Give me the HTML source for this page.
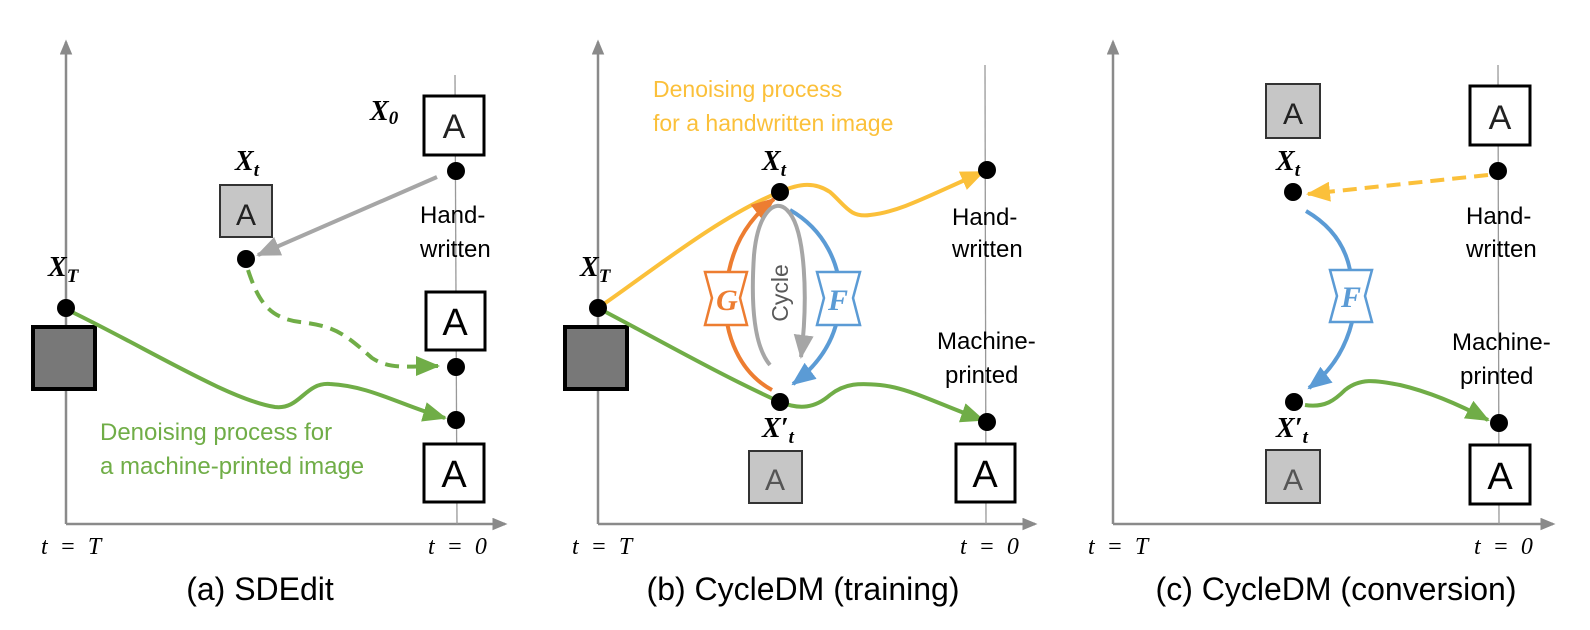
<!DOCTYPE html>
<html><head><meta charset="utf-8"><style>
html,body{margin:0;padding:0;background:#fff;width:1590px;height:630px;overflow:hidden}
svg{display:block}
.s{font-family:"Liberation Sans",sans-serif}
.m{font-family:"Liberation Serif",serif;font-style:italic;font-weight:bold}
.t{font-family:"Liberation Serif",serif;font-style:italic;font-size:24px}
</style></head><body>
<svg width="1590" height="630" viewBox="0 0 1590 630" xmlns="http://www.w3.org/2000/svg">
<defs>
<marker id="ag" markerWidth="6" markerHeight="5" refX="5.5" refY="2.5" orient="auto" markerUnits="strokeWidth"><path d="M0,0 L6,2.5 L0,5 Z" fill="#70ad47"/></marker>
<marker id="ay" markerWidth="6" markerHeight="5" refX="5.5" refY="2.5" orient="auto" markerUnits="strokeWidth"><path d="M0,0 L6,2.5 L0,5 Z" fill="#fbc03a"/></marker>
<marker id="ab" markerWidth="6" markerHeight="5" refX="5.5" refY="2.5" orient="auto" markerUnits="strokeWidth"><path d="M0,0 L6,2.5 L0,5 Z" fill="#5b9bd5"/></marker>
<marker id="ao" markerWidth="6" markerHeight="5" refX="5.5" refY="2.5" orient="auto" markerUnits="strokeWidth"><path d="M0,0 L6,2.5 L0,5 Z" fill="#ed7d31"/></marker>
<marker id="ar" markerWidth="6" markerHeight="5" refX="5.5" refY="2.5" orient="auto" markerUnits="strokeWidth"><path d="M0,0 L6,2.5 L0,5 Z" fill="#a6a6a6"/></marker>
<marker id="ax" markerWidth="6" markerHeight="5" refX="5" refY="2.5" orient="auto" markerUnits="strokeWidth"><path d="M0,0 L6,2.5 L0,5 Z" fill="#8a8a8a"/></marker>
</defs>

<g stroke="#8a8a8a" stroke-width="2.5" fill="none">
<path d="M66,524 L66,42" marker-end="url(#ax)"/>
<path d="M66,524 L505,524" marker-end="url(#ax)"/>
<path d="M598,524 L598,42" marker-end="url(#ax)"/>
<path d="M598,524 L1035,524" marker-end="url(#ax)"/>
<path d="M1113,524 L1113,42" marker-end="url(#ax)"/>
<path d="M1113,524 L1553,524" marker-end="url(#ax)"/>
</g>
<g stroke="#999" stroke-width="1.3">
<line x1="455" y1="75" x2="457" y2="524"/>
<line x1="985" y1="65" x2="986" y2="524"/>
<line x1="1498" y1="65" x2="1499" y2="524"/>
</g>

<!-- panel a -->
<rect x="33" y="327" width="62" height="62" fill="#787878" stroke="#000" stroke-width="4"/>
<rect x="220" y="185" width="52" height="52" fill="#c6c6c6" stroke="#333" stroke-width="2"/>
<text x="246" y="225" class="s" font-size="30" text-anchor="middle" fill="#222">A</text>
<g fill="#fff" stroke="#000" stroke-width="3">
<rect x="424" y="96" width="60" height="59"/>
<rect x="426" y="292" width="59" height="58"/>
<rect x="424" y="444" width="60" height="58"/>
</g>
<text x="454" y="138" class="s" font-size="34" text-anchor="middle" fill="#222">A</text>
<text x="455" y="335" class="s" font-size="38" text-anchor="middle">A</text>
<text x="454" y="487" class="s" font-size="38" text-anchor="middle">A</text>

<path d="M437,177 L258,255" stroke="#a6a6a6" stroke-width="4" fill="none" marker-end="url(#ar)"/>
<path d="M248,270 C258,300 268,318 300,322 C335,326 345,334 372,358 C390,370 410,366 438,366" stroke="#70ad47" stroke-width="4" fill="none" stroke-dasharray="14,8" marker-end="url(#ag)"/>
<path d="M72,312 C150,350 230,400 275,407 C300,410 305,382 330,384 C370,386 400,405 445,418" stroke="#70ad47" stroke-width="4" fill="none" marker-end="url(#ag)"/>

<g fill="#000">
<circle cx="66" cy="308" r="9"/><circle cx="246" cy="259" r="9"/>
<circle cx="456" cy="171" r="9"/><circle cx="456" cy="367" r="9"/><circle cx="456" cy="420" r="9"/>
</g>
<text x="370" y="120" class="m" font-size="28">X<tspan font-size="19" dy="4">0</tspan></text>
<text x="235" y="170" class="m" font-size="28">X<tspan font-size="19" dy="6">t</tspan></text>
<text x="48" y="276" class="m" font-size="28">X<tspan font-size="19" dy="6">T</tspan></text>
<text x="420" y="223" class="s" font-size="24">Hand-</text>
<text x="420" y="257" class="s" font-size="24">written</text>
<text x="100" y="440" class="s" font-size="24" fill="#70ad47">Denoising process for</text>
<text x="100" y="474" class="s" font-size="24" fill="#70ad47">a machine-printed image</text>
<text x="41" y="554" class="t" xml:space="preserve">t  =  T</text>
<text x="428" y="554" class="t" xml:space="preserve">t  =  0</text>
<text x="260" y="600" class="s" font-size="32" text-anchor="middle">(a) SDEdit</text>

<!-- panel b -->
<rect x="565" y="327" width="62" height="62" fill="#787878" stroke="#000" stroke-width="4"/>
<rect x="749" y="451" width="53" height="52" fill="#c6c6c6" stroke="#333" stroke-width="2"/>
<text x="775" y="490" class="s" font-size="30" text-anchor="middle" fill="#555">A</text>
<rect x="956" y="444" width="59" height="58" fill="#fff" stroke="#000" stroke-width="3"/>
<text x="985" y="487" class="s" font-size="38" text-anchor="middle">A</text>

<path d="M598,308 C640,280 720,215 780,192 C800,183 815,182 830,192 C845,205 850,218 870,215 C900,212 930,195 983,172" stroke="#fbc03a" stroke-width="4" fill="none" marker-end="url(#ay)"/>
<path d="M598,308 C650,335 720,375 780,402 C800,410 815,408 830,395 C845,383 860,383 880,385 C910,388 940,405 983,420" stroke="#70ad47" stroke-width="4" fill="none" marker-end="url(#ag)"/>
<path d="M772,390 C735,370 722,325 726,290 C730,250 745,222 774,199" stroke="#ed7d31" stroke-width="4" fill="none" marker-end="url(#ao)"/>
<path d="M790,210 C825,230 840,265 840,295 C840,330 825,360 793,384" stroke="#5b9bd5" stroke-width="4" fill="none" marker-end="url(#ab)"/>
<path d="M770,365 C753,345 751,300 754,255 C758,212 775,198 787,210 C806,228 808,300 801,357" stroke="#a6a6a6" stroke-width="4" fill="none" marker-end="url(#ar)"/>

<path d="M705,272 L747,272 L740,298 L747,325 L705,325 L712,298 Z" fill="#fff" stroke="#ed7d31" stroke-width="2.5"/>
<text x="727" y="310" class="m" font-size="30" text-anchor="middle" fill="#ed7d31">G</text>
<path d="M817,272 L860,272 L853,298 L860,325 L817,325 L824,298 Z" fill="#fff" stroke="#5b9bd5" stroke-width="2.5"/>
<text x="838" y="310" class="m" font-size="30" text-anchor="middle" fill="#5b9bd5">F</text>
<text transform="translate(788,293) rotate(-90)" class="s" font-size="23" text-anchor="middle" fill="#595959">Cycle</text>

<g fill="#000">
<circle cx="598" cy="308" r="9"/><circle cx="780" cy="192" r="9"/><circle cx="780" cy="402" r="9"/>
<circle cx="987" cy="170" r="9"/><circle cx="987" cy="422" r="9"/>
</g>
<text x="762" y="170" class="m" font-size="28">X<tspan font-size="19" dy="6">t</tspan></text>
<text x="580" y="276" class="m" font-size="28">X<tspan font-size="19" dy="6">T</tspan></text>
<text x="762" y="437" class="m" font-size="28">X′<tspan font-size="19" dy="6">t</tspan></text>
<text x="653" y="97" class="s" font-size="23" fill="#fbc03a">Denoising process</text>
<text x="653" y="131" class="s" font-size="23" fill="#fbc03a">for a handwritten image</text>
<text x="952" y="225" class="s" font-size="24">Hand-</text>
<text x="952" y="257" class="s" font-size="24">written</text>
<text x="937" y="349" class="s" font-size="24">Machine-</text>
<text x="945" y="383" class="s" font-size="24">printed</text>
<text x="572" y="554" class="t" xml:space="preserve">t  =  T</text>
<text x="960" y="554" class="t" xml:space="preserve">t  =  0</text>
<text x="803" y="600" class="s" font-size="32" text-anchor="middle">(b) CycleDM (training)</text>

<!-- panel c -->
<rect x="1266" y="84" width="54" height="54" fill="#c6c6c6" stroke="#333" stroke-width="2"/>
<text x="1293" y="124" class="s" font-size="30" text-anchor="middle" fill="#222">A</text>
<rect x="1266" y="450" width="54" height="53" fill="#c6c6c6" stroke="#333" stroke-width="2"/>
<text x="1293" y="490" class="s" font-size="30" text-anchor="middle" fill="#555">A</text>
<g fill="#fff" stroke="#000" stroke-width="3">
<rect x="1470" y="86" width="60" height="59"/>
<rect x="1470" y="445" width="60" height="59"/>
</g>
<text x="1500" y="129" class="s" font-size="34" text-anchor="middle" fill="#222">A</text>
<text x="1500" y="489" class="s" font-size="38" text-anchor="middle">A</text>

<path d="M1488,175 L1308,194" stroke="#fbc03a" stroke-width="4" fill="none" stroke-dasharray="14,8" marker-end="url(#ay)"/>
<path d="M1306,211 C1330,225 1345,245 1350,270 M1352,322 C1345,350 1330,372 1309,388" stroke="#5b9bd5" stroke-width="4" fill="none" marker-end="url(#ab)"/>
<path d="M1305,405 C1325,408 1335,400 1345,390 C1360,378 1375,380 1400,385 C1430,392 1460,405 1488,420" stroke="#70ad47" stroke-width="4" fill="none" marker-end="url(#ag)"/>
<path d="M1330,270 L1372,270 L1365,296 L1372,322 L1330,322 L1337,296 Z" fill="#fff" stroke="#5b9bd5" stroke-width="2.5"/>
<text x="1351" y="307" class="m" font-size="30" text-anchor="middle" fill="#5b9bd5">F</text>

<g fill="#000">
<circle cx="1293" cy="192" r="9"/><circle cx="1294" cy="402" r="9"/>
<circle cx="1498" cy="171" r="9"/><circle cx="1499" cy="423" r="9"/>
</g>
<text x="1276" y="170" class="m" font-size="28">X<tspan font-size="19" dy="6">t</tspan></text>
<text x="1276" y="437" class="m" font-size="28">X′<tspan font-size="19" dy="6">t</tspan></text>
<text x="1466" y="224" class="s" font-size="24">Hand-</text>
<text x="1466" y="257" class="s" font-size="24">written</text>
<text x="1452" y="350" class="s" font-size="24">Machine-</text>
<text x="1460" y="384" class="s" font-size="24">printed</text>
<text x="1088" y="554" class="t" xml:space="preserve">t  =  T</text>
<text x="1474" y="554" class="t" xml:space="preserve">t  =  0</text>
<text x="1336" y="600" class="s" font-size="32" text-anchor="middle">(c) CycleDM (conversion)</text>
</svg>
</body></html>
